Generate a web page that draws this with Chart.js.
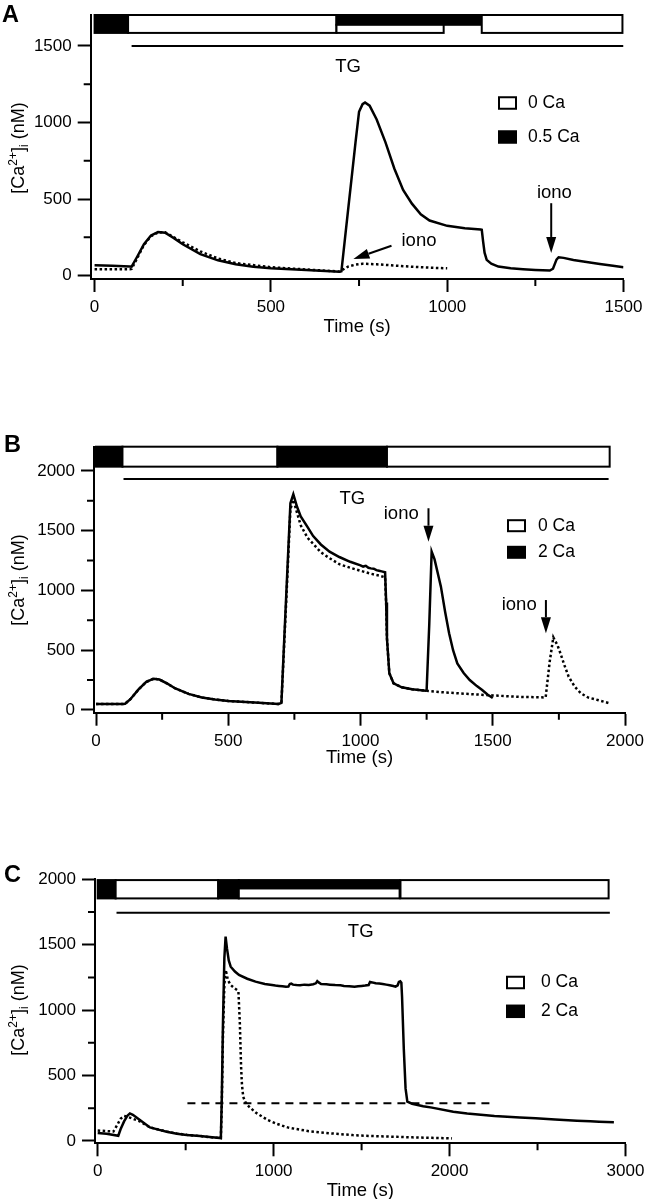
<!DOCTYPE html>
<html><head><meta charset="utf-8">
<script src="https://cdn.jsdelivr.net/npm/chart.js@4/dist/chart.umd.min.js"></script>
<style>
html,body{margin:0;padding:0;background:#fff;width:646px;height:1199px;overflow:hidden;position:relative}
canvas{position:absolute;left:0}
</style></head><body>
<canvas id="cA" width="646" height="345" style="top:0px"></canvas>
<canvas id="cB" width="646" height="370" style="top:400px"></canvas>
<canvas id="cC" width="646" height="359" style="top:840px"></canvas>
<script>
// ---------- DATA ----------
// Panel A (0.5 Ca)
const tA_solid = [0,50,100,105,120,140,160,180,200,225,250,300,350,400,450,500,600,695,700,710,720,730,740,750,760,767,780,800,825,850,875,900,925,950,1000,1050,1095,1098,1102,1106,1112,1125,1145,1180,1215,1250,1291,1300,1310,1316,1330,1358,1400,1433,1470,1500];
const caA_solid = [68,65,60,59,120,205,262,285,280,245,205,140,100,74,58,48,36,25,28,240,450,660,870,1070,1120,1131,1110,1020,870,700,560,470,400,360,325,310,302,300,220,150,103,78,59,48,42,37,33,45,105,120,116,102,88,76,64,55];
const tA_dot = [0,100,105,120,140,160,180,200,250,300,350,400,500,600,695,705,720,740,760,800,850,900,950,1000];
const caA_dot = [42,42,44,110,200,258,282,283,218,158,112,82,55,40,27,40,60,72,78,74,66,58,52,48];
// Panel B (2 Ca)
const tB_solid = [0,100,110,130,160,190,218,240,270,300,350,400,450,500,600,690,701,710,720,735,746,760,774,800,821,850,883,920,961,1000,1010,1020,1030,1039,1050,1060,1070,1080,1093,1097,1100,1109,1125,1156,1195,1246,1250,1260,1269,1280,1304,1320,1335,1350,1366,1390,1413,1440,1460,1480,1500];
const caB_solid = [50,50,52,90,170,235,262,255,220,180,135,105,88,76,62,50,60,510,1000,1730,1805,1700,1620,1530,1455,1385,1325,1280,1240,1210,1200,1206,1190,1185,1182,1170,1165,1160,1152,900,600,307,223,190,173,162,165,720,1325,1260,1032,820,642,500,390,310,251,200,167,130,100];
const tB_dot = [0,100,110,130,160,190,218,240,270,300,350,400,450,500,600,690,701,710,720,735,746,760,774,800,821,850,883,920,961,1000,1039,1070,1093,1097,1100,1109,1125,1156,1195,1250,1300,1400,1500,1600,1700,1715,1729,1745,1756,1770,1787,1810,1833,1860,1896,1942];
const caB_dot = [50,50,52,90,170,235,262,255,220,180,135,105,88,76,62,50,60,480,950,1680,1760,1650,1545,1440,1390,1320,1270,1220,1190,1165,1140,1125,1110,880,600,307,223,190,173,160,150,135,122,110,105,400,608,540,474,380,279,195,140,105,84,56];
// Panel C (2 Ca)
const tC_solid = [0,50,117,130,150,170,183,200,240,297,350,392,450,506,581,650,700,705,712,720,727,735,745,756,780,803,850,897,950,991,1010,1030,1050,1070,1084,1092,1100,1110,1130,1150,1175,1200,1225,1240,1248,1256,1270,1300,1320,1350,1380,1400,1430,1460,1480,1500,1520,1540,1548,1560,1580,1600,1620,1640,1660,1680,1693,1705,1712,1720,1726,1730,1740,1750,1760,1787,1850,1900,2021,2100,2255,2400,2489,2600,2724,2800,2850,2934];
const caC_solid = [62,55,40,90,150,195,211,200,160,104,85,71,56,46,38,28,22,300,900,1400,1562,1470,1380,1332,1295,1269,1240,1218,1200,1192,1188,1185,1182,1178,1180,1200,1203,1195,1192,1190,1195,1193,1198,1205,1222,1212,1200,1197,1195,1192,1190,1185,1183,1178,1182,1185,1188,1192,1215,1212,1205,1203,1200,1195,1190,1185,1180,1190,1215,1220,1210,1100,700,400,300,285,265,255,224,210,191,180,173,165,155,150,148,143];
const tC_dot = [0,89,110,130,149,170,200,240,297,350,392,450,506,581,650,700,705,712,720,728,740,756,775,792,800,808,815,820,827,838,850,900,967,1020,1084,1200,1319,1450,1553,1700,1787,1900,2014];
const caC_dot = [80,72,120,170,191,185,170,150,104,86,72,57,47,38,28,22,250,800,1200,1307,1230,1192,1170,1154,1140,900,568,430,339,300,275,215,160,130,102,75,59,45,38,32,28,24,20];
const tC_dash = [510,2255];
const caC_dash = [288,288];
// TG application (start, end)
const tgA = [105,1500];
const tgB = [104,1938];
const tgC = [107,2911];
// Solution protocol bars
const protA_start = [0,95,686,686,1098];
const protA_end = [95,686,1093,990,1497];
const protA_ca = ['0.5 Ca','0 Ca','0.5 Ca','0 Ca','0 Ca'];
const protA_row = ['full','full','top','bottom','full'];
const protB_start = [0,100,686,1100];
const protB_end = [100,686,1100,1942];
const protB_ca = ['2 Ca','0 Ca','2 Ca','0 Ca'];
const protB_row = ['full','full','full','full'];
const protC_start = [0,102,685,802,802,1721];
const protC_end = [102,685,802,1716,1716,2904];
const protC_ca = ['2 Ca','0 Ca','2 Ca','2 Ca','0 Ca','0 Ca'];
const protC_row = ['full','full','full','top','bottom','full'];
// tick labels
const ticksA_x = [0,500,1000,1500], ticksA_y = [0,500,1000,1500];
const ticksB_x = [0,500,1000,1500,2000], ticksB_y = [0,500,1000,1500,2000];
const ticksC_x = [0,1000,2000,3000], ticksC_y = [0,500,1000,1500,2000];

// ---------- RENDER ----------
const FF = '"Liberation Sans", Arial, Helvetica, sans-serif';
Chart.defaults.font.family = FF;
Chart.defaults.color = '#000';
const pts = (xs, ys) => xs.map((x, i) => ({x, y: ys[i]}));
const font = (s, b) => (b ? 'bold ' : '') + s + 'px ' + FF;

const annot = {
  id: 'annot',
  afterDraw(chart) {
    const o = chart.options.plugins.annot;
    const ctx = chart.ctx, xs = chart.scales.x, ys = chart.scales.y;
    const X = v => xs.getPixelForValue(v), Y = v => ys.getPixelForValue(v);
    ctx.save();
    ctx.lineWidth = 2; ctx.strokeStyle = '#000'; ctx.fillStyle = '#000';
    // protocol bar
    const p = o.prot;
    for (let i = 0; i < p.start.length; i++) {
      let yt, yb;
      if (p.row[i] === 'full') { yt = o.bar.top; yb = o.bar.bottom; }
      else if (p.row[i] === 'top') { yt = o.bar.top; yb = o.bar.mid; }
      else { yt = o.bar.mid; yb = o.bar.bottom; }
      const x0 = X(p.start[i]), x1 = X(p.end[i]), y0 = Y(yt), y1 = Y(yb);
      ctx.fillStyle = p.ca[i] === '0 Ca' ? '#fff' : '#000';
      ctx.fillRect(x0, y0, x1 - x0, y1 - y0);
      ctx.strokeRect(x0, y0, x1 - x0, y1 - y0);
    }
    // minor ticks
    ctx.lineWidth = 2;
    ctx.beginPath();
    for (let v = Math.ceil(xs.min / o.minorX) * o.minorX; v <= xs.max; v += o.minorX) {
      if (v % o.majorX === 0) continue;
      const px = X(v); ctx.moveTo(px, xs.top); ctx.lineTo(px, xs.top + 7);
    }
    for (let v = Math.ceil(ys.min / o.minorY) * o.minorY; v <= ys.max; v += o.minorY) {
      if (v % o.majorY === 0) continue;
      const py = Y(v); ctx.moveTo(ys.right, py); ctx.lineTo(ys.right - 7, py);
    }
    ctx.stroke();
    // texts
    ctx.fillStyle = '#000';
    ctx.textAlign = 'center'; ctx.textBaseline = 'middle';
    o.labels.forEach(l => { ctx.font = font(l.size); ctx.fillText(l.text, X(l.x), Y(l.y)); });
    // arrows
    o.arrows.forEach(a => {
      const x0 = X(a.x0), y0 = Y(a.y0), x1 = X(a.x1), y1 = Y(a.y1);
      const ang = Math.atan2(y1 - y0, x1 - x0), L = 16, W = 5;
      const bx = x1 - L * Math.cos(ang), by = y1 - L * Math.sin(ang);
      ctx.beginPath(); ctx.moveTo(x0, y0); ctx.lineTo(bx, by); ctx.stroke();
      ctx.beginPath(); ctx.moveTo(x1, y1);
      ctx.lineTo(bx + W * Math.sin(ang), by - W * Math.cos(ang));
      ctx.lineTo(bx - W * Math.sin(ang), by + W * Math.cos(ang));
      ctx.closePath(); ctx.fill();
    });
    // legend
    const lg = o.legend;
    ctx.textAlign = 'left'; ctx.font = font(17.5);
    lg.items.forEach((it, i) => {
      const y = lg.y[i];
      ctx.fillStyle = it.fill;
      ctx.fillRect(lg.x, y - lg.h / 2, lg.w, lg.h);
      ctx.strokeRect(lg.x, y - lg.h / 2, lg.w, lg.h);
      ctx.fillStyle = '#000';
      ctx.fillText(it.text, lg.tx, y);
    });
    // x axis title
    ctx.textAlign = 'center'; ctx.font = font(18.5);
    ctx.fillText('Time (s)', (xs.left + xs.right) / 2, o.xTitleY);
    // y axis title with super/subscript
    ctx.save();
    ctx.translate(o.yTitleX, o.yTitleY); ctx.rotate(-Math.PI / 2);
    ctx.textBaseline = 'alphabetic'; ctx.textAlign = 'left';
    const parts = [['[Ca', 18, 0], ['2+', 12, -7.5], [']', 18, 0], ['i', 12, 4], [' (nM)', 18, 0]];
    let W = 0;
    parts.forEach(q => { ctx.font = font(q[1]); W += ctx.measureText(q[0]).width; });
    let cx = -W / 2;
    parts.forEach(q => { ctx.font = font(q[1]); ctx.fillText(q[0], cx, q[2]); cx += ctx.measureText(q[0]).width; });
    ctx.restore();
    // panel letter
    ctx.textAlign = 'left'; ctx.textBaseline = 'alphabetic'; ctx.font = font(23.5, true);
    ctx.fillText(o.letter, o.letterX, o.letterY);
    ctx.restore();
  }
};

function makePanel(id, cfg) {
  const axisCommon = (min, max, tickVals, pad, fit) => ({
    type: 'linear', min, max,
    afterBuildTicks: s => { s.ticks = tickVals.map(v => ({ value: v })); },
    ticks: { autoSkip: false, maxRotation: 0, font: { size: 17 }, color: '#000', padding: pad,
      callback: v => String(v) },
    grid: { drawOnChartArea: false, drawTicks: true, tickLength: 13, tickWidth: 2, tickColor: '#000' },
    border: { display: true, color: '#000', width: 2 },
    afterFit: fit
  });
  const ds = cfg.series.map(s => ({
    data: s.data, borderColor: '#000', borderWidth: s.w || 2.5, borderDash: s.dash || [],
    pointRadius: 0, fill: false, tension: 0, borderCapStyle: 'butt'
  }));
  new Chart(document.getElementById(id), {
    type: 'line',
    data: { datasets: ds },
    options: {
      responsive: false, animation: false, devicePixelRatio: 1,
      layout: { padding: { top: cfg.padTop, right: cfg.padRight, left: 0, bottom: 0 } },
      plugins: { legend: { display: false }, tooltip: { enabled: false }, annot: cfg.annot },
      scales: {
        x: axisCommon(cfg.xMin, cfg.xMax, cfg.xTicks, 5, s => { s.height = cfg.xH; s.paddingLeft = 0; s.paddingRight = 0; s.paddingTop = 0; s.paddingBottom = 0; }),
        y: axisCommon(cfg.yMin, cfg.yMax, cfg.yTicks, 6, s => { s.width = cfg.yW; s.paddingTop = 0; s.paddingBottom = 0; s.paddingLeft = 0; s.paddingRight = 0; })
      }
    },
    plugins: [annot]
  });
}

makePanel('cA', {
  padTop: 15, padRight: 22.5, yW: 90.7, xH: 66,
  xMin: -11, xMax: 1500, yMin: -22, yMax: 1702, xTicks: ticksA_x, yTicks: ticksA_y,
  series: [
    { data: pts(tA_dot, caA_dot), dash: [2.5, 2.5] },
    { data: pts(tA_solid, caA_solid) },
    { data: pts(tgA, [1500, 1500]), w: 2 }
  ],
  annot: {
    prot: { start: protA_start, end: protA_end, ca: protA_ca, row: protA_row },
    bar: { top: 1702, mid: 1638, bottom: 1585 },
    majorX: 500, minorX: 250, majorY: 500, minorY: 250,
    labels: [{ text: 'TG', x: 719, y: 1365, size: 18.5 }, { text: 'iono', x: 920, y: 224, size: 18.5 }, { text: 'iono', x: 1304, y: 538, size: 18.5 }],
    arrows: [{ x0: 842, y0: 195, x1: 734, y1: 108 }, { x0: 1295, y0: 473, x1: 1295, y1: 148 }],
    legend: { x: 499, w: 17, h: 11.5, tx: 528, y: [103, 137], items: [{ fill: '#fff', text: '0 Ca' }, { fill: '#000', text: '0.5 Ca' }] },
    xTitleY: 327, yTitleX: 24, yTitleY: 148, letter: 'A', letterX: 2, letterY: 22
  }
});

makePanel('cB', {
  padTop: 46.7, padRight: 21, yW: 94, xH: 57.3,
  xMin: -7.6, xMax: 2000, yMin: -22.6, yMax: 2203, xTicks: ticksB_x, yTicks: ticksB_y,
  series: [
    { data: pts(tB_dot, caB_dot), dash: [2.5, 2.5] },
    { data: pts(tB_solid, caB_solid) },
    { data: pts(tgB, [1933, 1933]), w: 2 }
  ],
  annot: {
    prot: { start: protB_start, end: protB_end, ca: protB_ca, row: protB_row },
    bar: { top: 2203, mid: 2120, bottom: 2036 },
    majorX: 500, minorX: 250, majorY: 500, minorY: 250,
    labels: [{ text: 'TG', x: 969, y: 1766, size: 18.5 }, { text: 'iono', x: 1154, y: 1640, size: 18.5 }, { text: 'iono', x: 1600, y: 879, size: 18.5 }],
    arrows: [{ x0: 1257, y0: 1688, x1: 1257, y1: 1408 }, { x0: 1701, y0: 920, x1: 1701, y1: 642 }],
    legend: { x: 508, w: 17, h: 11, tx: 538, y: [125.7, 152.3], items: [{ fill: '#fff', text: '0 Ca' }, { fill: '#000', text: '2 Ca' }] },
    xTitleY: 358, yTitleX: 24, yTitleY: 180, letter: 'B', letterX: 4, letterY: 51.7
  }
});

makePanel('cC', {
  padTop: 39.3, padRight: 20.5, yW: 95, xH: 55.7,
  xMin: -15.3, xMax: 3000, yMin: -17.6, yMax: 2000, xTicks: ticksC_x, yTicks: ticksC_y,
  series: [
    { data: pts(tC_dot, caC_dot), dash: [2.5, 2.5] },
    { data: pts(tC_solid, caC_solid) },
    { data: pts(tC_dash, caC_dash), dash: [8, 6], w: 2 },
    { data: pts(tgC, [1744, 1744]), w: 2 }
  ],
  annot: {
    prot: { start: protC_start, end: protC_end, ca: protC_ca, row: protC_row },
    bar: { top: 1994, mid: 1930, bottom: 1854 },
    majorX: 1000, minorX: 500, majorY: 500, minorY: 250,
    labels: [{ text: 'TG', x: 1495, y: 1599, size: 18.5 }],
    arrows: [],
    legend: { x: 507, w: 17, h: 11.5, tx: 541, y: [142.5, 171.3], items: [{ fill: '#fff', text: '0 Ca' }, { fill: '#000', text: '2 Ca' }] },
    xTitleY: 351, yTitleX: 24, yTitleY: 170, letter: 'C', letterX: 4, letterY: 41.7
  }
});
</script>
</body></html>
